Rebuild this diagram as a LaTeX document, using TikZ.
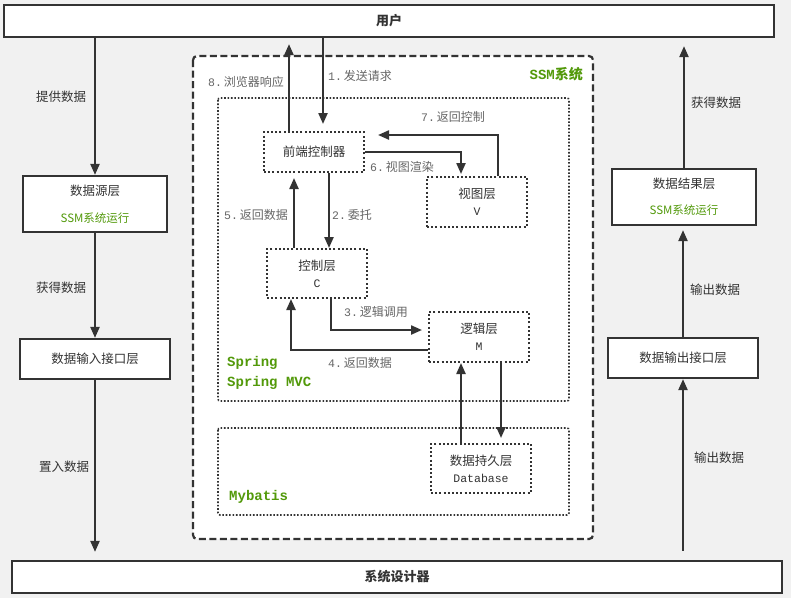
\documentclass[tikz,border=0pt]{standalone}
\usepackage{fontspec}
\setmainfont{Noto Sans CJK SC}
\setmonofont{Liberation Mono}
\usetikzlibrary{arrows.meta}
\definecolor{bggray}{RGB}{241,241,241}
\definecolor{linegray}{RGB}{51,51,51}
\definecolor{lblgray}{RGB}{102,102,102}
\definecolor{ssmgreen}{RGB}{82,153,10}
\newcommand{\lat}[1]{{\ttfamily\fontsize{11.5}{17}\selectfont #1}}
\tikzset{
  solidbox/.style={draw=linegray, line width=2.2pt, fill=white, inner sep=0pt, align=center},
  dotbox/.style={draw=linegray, line width=2pt, dash pattern=on 2pt off 2.2pt, fill=white, inner sep=0pt, align=center, font=\fontsize{12.5}{17}\selectfont},
  flow/.style={draw=linegray, line width=2.2pt, -{Triangle[length=11pt,width=9pt]}},
  lbl/.style={text=lblgray, inner sep=0pt, font=\fontsize{12}{14}\selectfont},
  sidelbl/.style={text=linegray, inner sep=0pt},
  grn/.style={text=ssmgreen, inner sep=0pt, font=\fontsize{14}{20}\selectfont\ttfamily\bfseries, align=left},
  frame/.style={draw=linegray, line width=1.6pt, dash pattern=on 1.6pt off 1.8pt, rounded corners=2pt}
}
\begin{document}
\begin{tikzpicture}[x=1pt, y=-1pt, font=\fontsize{12.5}{15}\selectfont, text=linegray]
\fill[bggray] (0,0) rectangle (791,598);
\useasboundingbox (0,0) rectangle (791,598);

% frames
\draw[linegray, line width=2.2pt, dash pattern=on 7pt off 3.5pt, rounded corners=4pt, fill=white] (193,56) rectangle (593,539);
\draw[frame] (218,98) rectangle (569,401);
\draw[frame] (218,428) rectangle (569,515);
\node[grn, anchor=east] (ssmlbl) at (583,74) {SSM\rmfamily 系统};
\node[grn, anchor=west] (springlbl) at (227,373) {Spring\\Spring MVC};
\node[grn, anchor=west] (mybatislbl) at (229,497) {Mybatis};

% outer boxes
\node[solidbox, minimum width=770pt, minimum height=32pt, font=\fontsize{13}{15}\selectfont\bfseries] (user) at (389,21) {用户};
\node[solidbox, minimum width=770pt, minimum height=32pt, font=\fontsize{13}{15}\selectfont\bfseries] (designer) at (397,577) {系统设计器};
\node[solidbox, minimum width=144pt, minimum height=56pt] (source) at (95,204) {数据源层\\[12pt]{\color{ssmgreen}\fontsize{11.5}{13}\selectfont SSM系统运行}};
\node[solidbox, minimum width=150pt, minimum height=40pt] (inport) at (95,359) {数据输入接口层};
\node[solidbox, minimum width=144pt, minimum height=56pt] (result) at (684,197) {数据结果层\\[11pt]{\color{ssmgreen}\fontsize{11.5}{13}\selectfont SSM系统运行}};
\node[solidbox, minimum width=150pt, minimum height=40pt] (outport) at (683,358) {数据输出接口层};

% inner boxes
\node[dotbox, minimum width=100pt, minimum height=40pt] (front) at (314,152) {前端控制器};
\node[dotbox, minimum width=100pt, minimum height=50pt] (view) at (477,202) {视图层\\\lat{V}};
\node[dotbox, minimum width=100pt, minimum height=49pt] (ctrl) at (317,273.5) {控制层\\\lat{C}};
\node[dotbox, minimum width=100pt, minimum height=50pt] (logic) at (479,337) {逻辑层\\\lat{M}};
\node[dotbox, minimum width=100pt, minimum height=49pt] (store) at (481,468.5) {数据持久层\\\lat{Database}};

% side arrows
\draw[flow] (source.north |- user.south) -- (source.north);
\draw[flow] (source.south) -- (source.south |- inport.north);
\draw[flow, shorten >=8pt] (inport.south) -- (inport.south |- designer.north);
\draw[flow, shorten <=9pt] (outport.south |- designer.north) -- (outport.south);
\draw[flow, shorten >=4pt] (outport.north) -- (outport.north |- result.south);
\draw[flow, shorten >=8pt] (result.north) -- (result.north |- user.south);

% ssm arrows
\coordinate (reqx) at ([xshift=9pt]front.north);
\coordinate (respx) at ([xshift=-25pt]front.north);
\coordinate (delx) at ([xshift=15pt]front.south);
\coordinate (backx) at ([xshift=-23pt]ctrl.north);
\coordinate (upx) at ([xshift=-20pt]store.north);
\coordinate (downx) at ([xshift=22pt]logic.south);
\draw[flow, shorten >=7pt] (reqx |- user.south) -- (reqx);
\draw[flow, shorten >=6pt] (respx) -- (respx |- user.south);
\draw[flow] (delx) -- (delx |- ctrl.north);
\draw[flow, shorten >=5pt] (backx) -- (backx |- front.south);
\draw[flow, shorten >=2pt] (front.east) -| ([xshift=-16pt]view.north);
\draw[flow, shorten >=13pt] ([xshift=21pt]view.north) |- ([yshift=17pt]front.east);
\draw[flow, shorten >=6pt] ([xshift=14pt]ctrl.south) |- ([yshift=7pt]logic.west);
\draw[flow] ([yshift=-13pt]logic.west) -| ([xshift=-26pt]ctrl.south);
\draw[flow] (upx) -- (upx |- logic.south);
\draw[flow, shorten >=5pt] (downx) -- (downx |- store.north);

% labels
\foreach \n/\x/\y/\t in {givelbl/61/97/提供数据, getlbl/61/288/获得数据, putlbl/64/467/置入数据,
  fetchlbl/716/103/获得数据, outlbla/715/290/输出数据, outlblb/719/458/输出数据}
  \node[sidelbl] (\n) at (\x,\y) {\t};
\foreach \n/\x/\y/\k/\t in {lreq/360/76/1./发送请求, lresp/246/82/8./浏览器响应, lctl/453/117/7./返回控制,
  lrend/402/167/6./视图渲染, ldel/352/215/2./委托, lback/256/215/5./返回数据,
  lcall/376/312/3./逻辑调用, lret/360/363/4./返回数据}
  \node[lbl] (\n) at (\x,\y) {\lat{\k}\,\t};
\end{tikzpicture}
\end{document}
